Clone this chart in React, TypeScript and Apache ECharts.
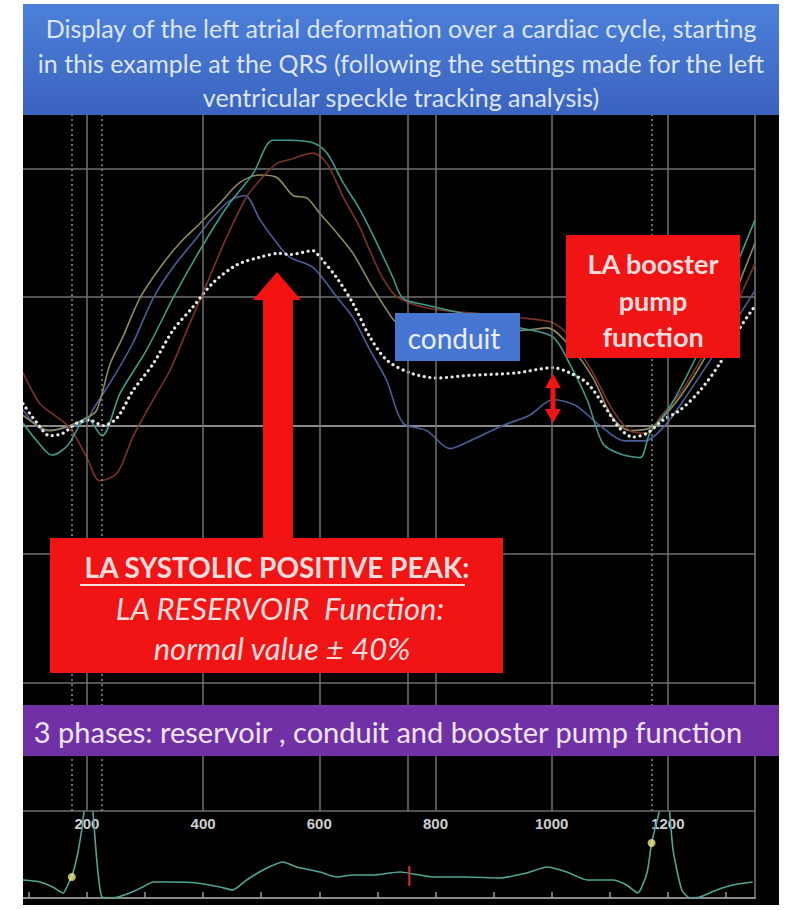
import React, { useEffect, useRef } from "react";
import * as echarts from "echarts";

// ---- data (time in ms, strain in %) ----
const avgMs = [90,114,136,159,183,205,228,252,279,314,348,382,417,458,498,532,549,589,601,630,658,687,716,756,802,859,940,1002,1031,1061,1088,1117,1140,1164,1191,1221,1255,1289,1324,1350];
const avgVal = [1.7,0.2,-0.8,-0.6,0.2,0.4,0,0.6,2.7,4.8,7.4,9.2,11.1,12.5,13.1,13.4,13.3,13.6,13.1,11.5,9.5,6.9,5.1,4.1,3.7,3.9,4.1,4.5,4.1,3.3,1.7,-0.2,-0.9,-0.6,0.4,1.2,2.7,4.8,7.6,9.3];

const tealMs = [90,114,140,166,200,226,257,303,348,394,441,486,520,549,589,613,641,670,699,727,744,782,859,945,1002,1031,1061,1088,1117,1152,1169,1203,1260,1319,1350];
const tealVal = [0.2,-1.2,-2.3,-1.6,0.6,-0.8,2.5,5.9,9.9,13.6,17.0,19.6,22.2,22.2,22.0,21.2,18.9,16.8,14.2,11.5,9.9,9.4,8.6,7.6,6.9,4.8,2.0,-1.4,-2.2,-2.5,-0.6,1.4,6.4,12.6,16.0];

const brownMs = [90,119,141,171,200,222,252,279,314,343,372,407,441,475,498,527,549,589,613,641,670,687,709,734,790,876,962,1002,1031,1071,1105,1135,1164,1186,1221,1267,1312,1350];
const brownVal = [4.1,1.7,0.9,-0.2,-2.5,-4.3,-3.7,-0.9,2.0,4.3,7.4,11.1,14.7,17.8,19.1,20.4,20.7,21.2,20.4,17.8,15.4,13.6,11.5,10.0,9.1,8.7,8.3,8.0,6.9,4.1,1.2,-0.4,-0.6,0.6,2.5,5.9,9.0,12.6];

const oliveMs = [90,136,171,200,217,240,262,291,326,360,394,429,463,498,527,555,579,601,630,658,687,716,734,808,950,992,1031,1071,1105,1135,1169,1203,1243,1289,1336,1350];
const oliveVal = [0.8,-0.4,0,0.6,1.2,4.8,6.9,9.9,12.3,14.2,15.7,17.3,18.9,19.5,19.3,17.9,17.7,16.5,15.0,13.4,11.1,9.0,8.0,7.4,7.4,7.6,6.2,3.7,0.6,-0.4,-0.2,1.2,3.7,7.4,12.6,14.2];

const blueMs = [90,128,162,200,210,245,279,314,348,389,417,446,472,498,527,549,589,630,658,687,716,744,785,825,859,916,962,1002,1040,1083,1126,1160,1195,1238,1289,1350];
const blueVal = [1.2,-0.4,-0.2,0.4,1.2,3.7,6.4,9.9,12.3,14.6,16.2,17.5,17.9,16.0,14.2,13.1,12.3,10.0,8.4,5.9,3.5,0.2,-0.4,-1.8,-1.2,0,0.8,2.0,1.6,0,-1.2,-1.2,0,2.7,6.2,10.5];

const ecgMs = [90,119,141,159,171,174,183,191,197,202,209,217,226,245,274,296,314,343,389,429,451,475,503,537,561,601,630,658,692,739,796,854,911,957,992,1026,1061,1105,1129,1148,1164,1172,1183,1193,1198,1209,1224,1238,1255,1284,1312,1346];
const ecgVal = [18,16,11,5,18,21,41,68,95,110,95,38,1,0,5,11,16,16,15,11,8,18,28,36,31,26,21,23,23,26,21,21,20,25,31,26,18,18,13,5,25,55,81,105,110,48,8,0,1,8,13,16];

const markerMs = [174, 1172];
const markerVal = [21, 55];
const avcMs = 755;
const avcVal = [12, 32];

const tickLabels = [200, 400, 600, 800, 1000, 1200];
const minorTicks = [100, 200, 300, 400, 500, 600, 700, 800, 900, 1000, 1100, 1200, 1300];
const solidLinesMs = [200, 400, 600, 752, 800, 1000, 1200];
const dottedLinesMs = [174, 226, 1172];

const titleLines = [
  "Display of the left atrial deformation over a cardiac cycle, starting",
  "in this example at the QRS (following the settings made for the left",
  "ventricular speckle tracking analysis)",
];

const zip = (xs: number[], ys: number[]) => xs.map((x, i) => [x, ys[i]]);

const FONT = "Lato";

export default function App() {
  const ref = useRef<HTMLDivElement>(null);
  useEffect(() => {
    document.body.style.margin = "0";
    const chart = echarts.init(ref.current!, undefined, { renderer: "svg" });
    const grey = "#707070";
    const curve = (name: string, xs: number[], ys: number[], color: string) => ({
      name,
      type: "line",
      xAxisIndex: 0,
      yAxisIndex: 0,
      data: zip(xs, ys),
      smooth: 0.3,
      showSymbol: false,
      lineStyle: { color, width: 1.6 },
      z: 3,
    });
    const overlayText = (text: string, x: number, y: number, size: number, fill: string, extra: any = {}) => ({
      type: "text",
      x,
      y,
      z: 102,
      style: {
        text,
        fill,
        fontSize: size,
        fontFamily: FONT,
        align: "center",
        verticalAlign: "middle",
        textAlign: "center",
        textVerticalAlign: "middle",
        ...extra,
      },
    });
    const option: any = {
      animation: false,
      backgroundColor: "#000000",
      grid: [
        { left: 23, right: 35, top: 40, height: 771 },
        { left: 23, right: 35, top: 812, height: 86 },
      ],
      xAxis: [
        {
          gridIndex: 0,
          type: "value",
          min: 90,
          max: 1350,
          position: "bottom",
          axisLine: { show: true, lineStyle: { color: "#8a8a8a", width: 2 } },
          axisTick: { show: false },
          splitLine: { show: false },
          axisLabel: {
            customValues: tickLabels,
            formatter: (v: number) => String(v),
            color: "#cfcfcf",
            fontWeight: "bold",
            fontSize: 15,
            fontFamily: "Liberation Sans",
            margin: 5,
          },
        },
        {
          gridIndex: 1,
          type: "value",
          min: 90,
          max: 1350,
          position: "bottom",
          axisLine: { show: true, lineStyle: { color: "#8a8a8a", width: 2 } },
          axisTick: {
            show: true,
            inside: true,
            length: 6,
            customValues: minorTicks,
            lineStyle: { color: "#9a9a9a", width: 1.5 },
          },
          axisLabel: { show: false },
          splitLine: { show: false },
        },
      ],
      yAxis: [
        {
          gridIndex: 0,
          type: "value",
          min: -30,
          max: 30,
          interval: 10,
          position: "right",
          axisLine: { show: true, lineStyle: { color: "#7a7a7a", width: 1.5 } },
          axisTick: { show: false },
          axisLabel: { show: false },
          splitLine: { show: true, lineStyle: { color: grey, width: 1.5 } },
        },
        {
          gridIndex: 1,
          type: "value",
          min: 0,
          max: 86,
          position: "right",
          axisLine: { show: true, lineStyle: { color: "#7a7a7a", width: 1.5 } },
          axisTick: { show: false },
          axisLabel: { show: false },
          splitLine: { show: false },
        },
      ],
      series: [
        {
          name: "grid-lines",
          type: "line",
          xAxisIndex: 0,
          yAxisIndex: 0,
          data: [],
          z: 1,
          markLine: {
            silent: true,
            symbol: "none",
            label: { show: false },
            data: [
              ...solidLinesMs.map((v) => ({ xAxis: v, lineStyle: { color: grey, width: 1.5, type: "solid" } })),
              ...dottedLinesMs.map((v) => ({ xAxis: v, lineStyle: { color: "#8c8c8c", width: 1.5, type: [2, 3] } })),
            ],
          },
        },
        curve("blue", blueMs, blueVal, "#4a5f98"),
        curve("olive", oliveMs, oliveVal, "#8d8a5c"),
        curve("brown", brownMs, brownVal, "#7c3326"),
        curve("teal", tealMs, tealVal, "#3f9a8b"),
        {
          name: "average",
          type: "line",
          xAxisIndex: 0,
          yAxisIndex: 0,
          data: zip(avgMs, avgVal),
          smooth: 0.3,
          showSymbol: false,
          z: 4,
          lineStyle: { color: "#e6e6e6", width: 3.2, type: [0.1, 5.5], cap: "round" },
        },
        {
          name: "ECG",
          type: "line",
          xAxisIndex: 1,
          yAxisIndex: 1,
          data: zip(ecgMs, ecgVal),
          smooth: 0.2,
          showSymbol: false,
          clip: true,
          lineStyle: { color: "#4fa597", width: 1.6 },
        },
        {
          name: "AVC",
          type: "line",
          xAxisIndex: 1,
          yAxisIndex: 1,
          data: avcVal.map((v) => [avcMs, v]),
          showSymbol: false,
          lineStyle: { color: "#e0302a", width: 2 },
        },
        {
          name: "markers",
          type: "scatter",
          xAxisIndex: 1,
          yAxisIndex: 1,
          data: zip(markerMs, markerVal),
          symbolSize: 8,
          itemStyle: { color: "#f2ee8c" },
          z: 5,
        },
      ],
      graphic: [
        // white page margins
        { type: "rect", z: 200, shape: { x: 0, y: 0, width: 23, height: 910 }, style: { fill: "#ffffff" } },
        { type: "rect", z: 200, shape: { x: 779, y: 0, width: 11, height: 910 }, style: { fill: "#ffffff" } },
        { type: "rect", z: 200, shape: { x: 0, y: 0, width: 790, height: 4 }, style: { fill: "#ffffff" } },
        { type: "rect", z: 200, shape: { x: 0, y: 905, width: 790, height: 5 }, style: { fill: "#ffffff" } },
        // title band
        {
          type: "rect",
          z: 100,
          shape: { x: 23, y: 4, width: 756, height: 111 },
          style: {
            fill: new echarts.graphic.LinearGradient(0, 0, 0, 1, [
              { offset: 0, color: "#4c80da" },
              { offset: 1, color: "#3b63bf" },
            ]),
          },
        },
        ...titleLines.map((t, i) => overlayText(t, 401, 28 + i * 34.5, 25, "#dce6f7")),
        // big red arrow
        {
          type: "polygon",
          z: 100,
          shape: {
            points: [
              [263, 545], [263, 300], [253, 300], [277, 272], [301, 300], [293, 300], [293, 545],
            ],
          },
          style: { fill: "#f21212" },
        },
        // red box (reservoir)
        { type: "rect", z: 100, shape: { x: 50, y: 538, width: 453, height: 135 }, style: { fill: "#f01414" } },
        overlayText("LA SYSTOLIC POSITIVE PEAK:", 277, 567, 28, "#fadcdc", { fontWeight: "bold" }),
        {
          type: "line",
          z: 102,
          shape: { x1: 80, y1: 585, x2: 465, y2: 585 },
          style: { stroke: "#fadcdc", lineWidth: 2 },
        },
        overlayText("LA RESERVOIR  Function:", 280, 608, 31, "#fadcdc", { fontStyle: "italic" }),
        overlayText("normal value \u00b1 40%", 282, 648, 31, "#fadcdc", { fontStyle: "italic" }),
        // conduit box
        { type: "rect", z: 100, shape: { x: 395, y: 313, width: 125, height: 48 }, style: { fill: "#4676d1" } },
        overlayText("conduit", 454, 338, 28, "#e9eefa"),
        // booster box
        { type: "rect", z: 100, shape: { x: 566, y: 235, width: 174, height: 123 }, style: { fill: "#f01414" } },
        overlayText("LA booster", 653, 263, 27, "#fadcdc", { fontWeight: "bold" }),
        overlayText("pump", 653, 300, 27, "#fadcdc", { fontWeight: "bold" }),
        overlayText("function", 653, 336, 27, "#fadcdc", { fontWeight: "bold" }),
        // small double arrow
        {
          type: "polygon",
          z: 100,
          shape: {
            points: [
              [553, 374], [561, 388], [555.5, 388], [555.5, 409], [561, 409], [553, 423],
              [545, 409], [550.5, 409], [550.5, 388], [545, 388],
            ],
          },
          style: { fill: "#f01414" },
        },
        // purple band
        { type: "rect", z: 100, shape: { x: 23, y: 705, width: 756, height: 51 }, style: { fill: "#7131a6" } },
        overlayText("3 phases: reservoir , conduit and booster pump function", 388, 731, 29, "#f0e4f6"),
      ],
    };
    chart.setOption(option);
    return () => chart.dispose();
  }, []);
  return <div ref={ref} style={{ width: 790, height: 910 }} />;
}
